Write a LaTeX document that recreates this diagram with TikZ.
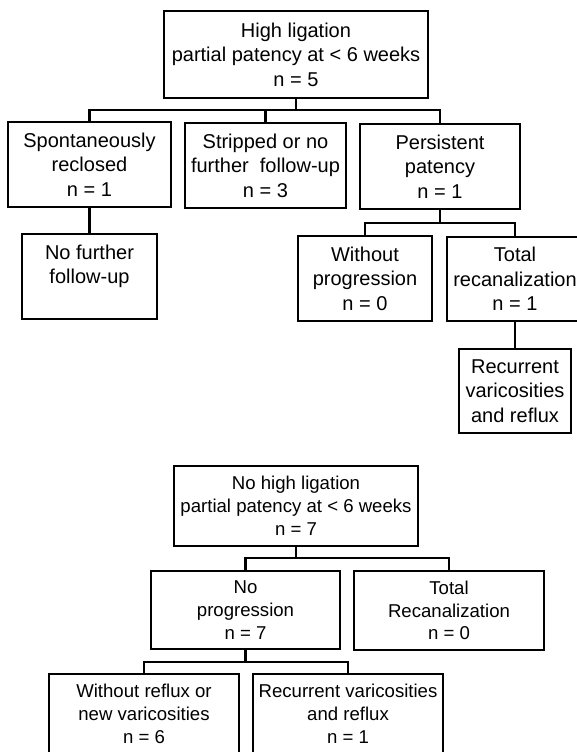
\documentclass[tikz,border=0pt]{standalone}
\usepackage{fontspec}
\setmainfont{Liberation Sans}
\usepackage{tikz}
\usetikzlibrary{calc}

\begin{document}
\begin{tikzpicture}[x=1bp,y=-1bp,line width=2.1bp]
	\tikzstyle{kasten}=[draw,align=center,inner sep=2bp,font=\fontsize{20bp}{24.5bp}\selectfont];
	\tikzstyle{kleinkasten}=[kasten,font=\fontsize{18.6bp}{22.8bp}\selectfont];
%<--------------------------------------------------------------------------->%
	\useasboundingbox (0,0) rectangle (577,752);
	%% High ligation
	\node[kasten,minimum width=264bp,minimum height=87bp] (HL) at (296,54.5) {High ligation\\partial patency at < 6 weeks\\n = 5};
	\node[kasten,minimum width=163bp,minimum height=85bp] (SR) at (89.5,164.5) {Spontaneously\\reclosed\\n = 1};
	\node[kasten,minimum width=161bp,minimum height=85bp] (ST) at (265.5,165.5) {Stripped or no\\further~ follow-up\\n = 3};
	\node[kasten,minimum width=160bp,minimum height=85bp] (PP) at (440,166.5) {Persistent\\patency\\n = 1};
	\node[kasten,minimum width=135bp,minimum height=85bp] (NF) at (89.5,276.5) {No further\\follow-up\\~};
	\node[kasten,minimum width=134bp,minimum height=85bp] (WP) at (365,278.5) {Without\\progression\\n = 0};
	\node[kasten,minimum width=136bp,minimum height=84bp] (TR) at (515,279) {Total\\recanalization\\n = 1};
	\node[kasten,minimum width=112bp,minimum height=84bp] (RV) at (515,391) {Recurrent\\varicosities\\and reflux};
	\coordinate (hlbar) at (296,110);
	\coordinate (ppbar) at (440,223);
	\draw (HL.south) -- (hlbar);
	\draw (SR.north) |- (hlbar) -| (PP.north);
	\draw (ST.north) -- (ST.north |- hlbar);
	\draw (SR.south) -- (NF.north);
	\draw (PP.south) -- (ppbar);
	\draw (WP.north) |- (ppbar) -| (TR.north);
	\draw (TR.south) -- (RV.north);
	%% No high ligation
	\node[kleinkasten,minimum width=244bp,minimum height=80bp] (NH) at (296,506) {No high ligation\\partial patency at < 6 weeks\\n = 7};
	\node[kleinkasten,minimum width=189bp,minimum height=78bp] (NP) at (245.5,610) {No\\progression\\n = 7};
	\node[kleinkasten,minimum width=190bp,minimum height=79bp] (TT) at (449,610.5) {Total\\Recanalization\\n = 0};
	\node[kleinkasten,minimum width=190bp,minimum height=80bp] (WR) at (144,714) {Without reflux or\\new varicosities\\n = 6};
	\node[kleinkasten,minimum width=190bp,minimum height=80bp] (RR) at (348,714) {Recurrent varicosities\\and reflux\\n = 1};
	\coordinate (nhbar) at (296,558);
	\coordinate (npbar) at (245.5,662);
	\draw (NH.south) -- (nhbar);
	\draw (NP.north) |- (nhbar) -| (TT.north);
	\draw (NP.south) -- (npbar);
	\draw (WR.north) |- (npbar) -| (RR.north);
\end{tikzpicture}
\end{document}
